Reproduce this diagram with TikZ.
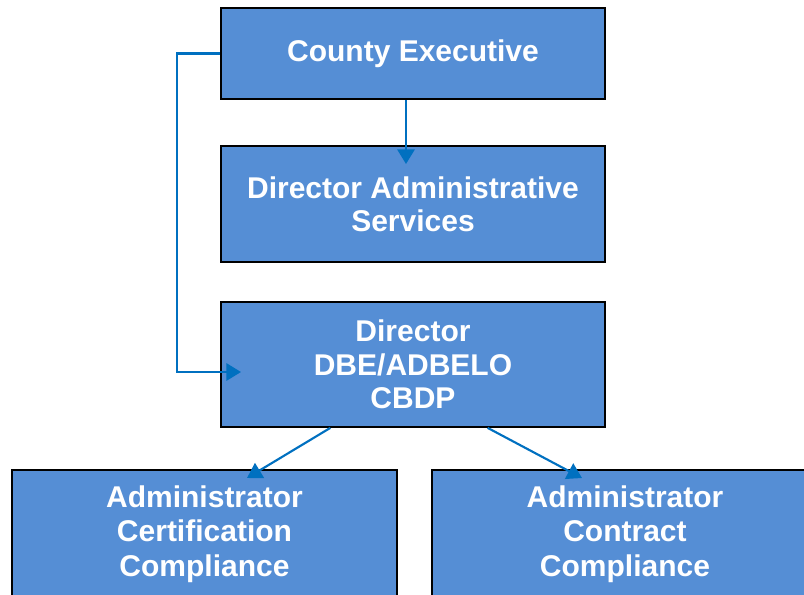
\documentclass[tikz,border=0pt]{standalone}
\usepackage{fontspec}
\setmainfont{Liberation Sans}
\usetikzlibrary{arrows.meta}

\definecolor{boxfill}{RGB}{85,142,213}
\definecolor{linkblue}{RGB}{0,112,192}

\tikzset{
    unit/.style={draw=black, line width=1.3pt, fill=boxfill, text=white,
        font=\bfseries\fontsize{22.5}{25}\selectfont, align=center,
        inner sep=0pt, minimum width=288pt},
    link/.style={draw=linkblue, line width=1.6pt,
        -{Triangle[width=13pt,length=11pt]}}
}

\begin{document}
\begin{tikzpicture}[x=0.75pt, y=-0.75pt]
        \useasboundingbox (0,0) rectangle (804,594);
        \clip (0,0) rectangle (804,594);

        \node[unit, minimum height=68.25pt] (ce) at (413,53.5) {County Executive};
        \node[unit, minimum height=87pt] (das) at (413,204) {Director Administrative\\Services};
        \node[unit, minimum height=93.75pt] (dir) at (413,364.5) {Director\\DBE/ADBELO\\CBDP};
        \node[unit, minimum width=288.75pt, minimum height=96pt,
            font=\bfseries\fontsize{22.5}{26}\selectfont] (acc) at (204.5,534) {Administrator\\Certification\\Compliance};
        \node[unit, minimum width=289.5pt, minimum height=96pt,
            font=\bfseries\fontsize{22.5}{26}\selectfont] (aco) at (625,534) {Administrator\\Contract\\Compliance};

        \coordinate (t1) at (406,164);
        \coordinate (t2) at (241,372);
        \coordinate (t3) at (247,478);
        \coordinate (t4) at (582,478);

        \draw[link] (ce.south -| t1) -- (t1);
        \draw[link] (ce.west) -- ++(-43,0) |- (t2);
        \draw[link] ([xshift=-62pt]dir.south) -- (t3);
        \draw[link] ([xshift=56pt]dir.south) -- (t4);
    \end{tikzpicture}
\end{document}
